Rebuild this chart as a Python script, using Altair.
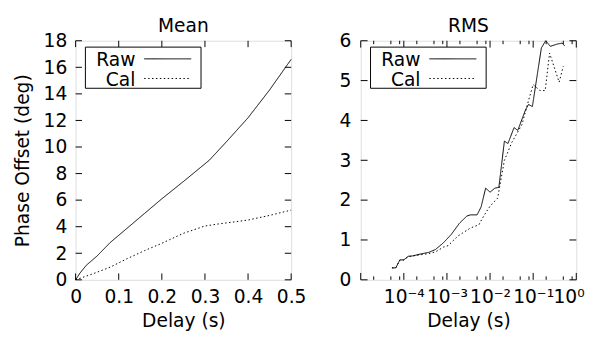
import altair as alt
import pandas as pd

# ---------------- data ----------------
series_names = ["Raw", "Cal"]

mean_delay_raw = [0.0, 0.01, 0.025, 0.05, 0.08, 0.12, 0.16, 0.2, 0.25, 0.31, 0.35, 0.4, 0.45, 0.5]
mean_raw = [0.0, 0.5, 1.1, 1.8, 2.8, 3.9, 5.0, 6.1, 7.4, 9.0, 10.4, 12.2, 14.3, 16.6]

mean_delay_cal = [0.0, 0.04, 0.08, 0.12, 0.16, 0.2, 0.25, 0.3, 0.33, 0.4, 0.45, 0.5]
mean_cal = [0.0, 0.45, 0.95, 1.6, 2.2, 2.75, 3.5, 4.05, 4.2, 4.5, 4.85, 5.25]

rms_delay_raw = [5.3e-5, 6.5e-5, 8.1e-5, 1.0e-4, 1.26e-4, 1.6e-4, 2.5e-4, 3.8e-4, 5.4e-4,
                 8.3e-4, 1.26e-3, 1.95e-3, 2.9e-3, 3.5e-3, 5.0e-3, 6.2e-3, 7.9e-3, 1.0e-2,
                 1.29e-2, 1.6e-2, 2.15e-2, 2.6e-2, 3.6e-2, 4.4e-2, 6.6e-2, 7.8e-2, 9.6e-2,
                 1.55e-1, 1.95e-1, 2.5e-1, 3.7e-1, 4.7e-1, 5.4e-1]
rms_raw = [0.30, 0.30, 0.50, 0.50, 0.59, 0.60, 0.65, 0.69, 0.76,
           0.93, 1.14, 1.42, 1.60, 1.63, 1.63, 1.83, 2.30, 2.20,
           2.30, 2.32, 3.48, 3.42, 3.82, 3.75, 4.26, 4.40, 4.35,
           5.82, 6.00, 5.86, 5.92, 5.94, 5.87]

rms_delay_cal = [5.3e-5, 6.5e-5, 8.1e-5, 1.0e-4, 1.26e-4, 1.6e-4, 2.5e-4, 3.8e-4, 5.4e-4,
                 8.3e-4, 1.07e-3, 1.8e-3, 3.5e-3, 5.5e-3, 7.1e-3, 1.0e-2, 1.5e-2, 2.15e-2,
                 3.2e-2, 5.5e-2, 7.8e-2, 1.0e-1, 1.43e-1, 1.9e-1, 2.4e-1, 4.0e-1, 5.0e-1]
rms_cal = [0.30, 0.30, 0.50, 0.50, 0.58, 0.60, 0.63, 0.66, 0.70,
           0.82, 0.86, 1.10, 1.30, 1.38, 1.60, 1.85, 2.05, 3.00,
           3.45, 3.90, 4.50, 4.90, 4.75, 4.75, 5.69, 4.96, 5.36]

mean_xticks = [0, 0.1, 0.2, 0.3, 0.4, 0.5]
mean_yticks = [0, 2, 4, 6, 8, 10, 12, 14, 16, 18]
rms_major_xticks = [1e-5, 1e-4, 1e-3, 1e-2, 1e-1, 1]
rms_minor_xticks = [2e-5, 5e-5, 8e-5, 2e-4, 5e-4, 8e-4, 2e-3, 5e-3, 8e-3,
                    2e-2, 5e-2, 8e-2, 2e-1, 5e-1, 8e-1]
rms_yticks = [0, 1, 2, 3, 4, 5, 6]
rms_label_values = [1e-4, 1e-3, 1e-2, 1e-1, 1]
rms_label_texts = ["10⁻⁴", "10⁻³", "10⁻²", "10⁻¹", "10⁰"]

# ---------------- styling ----------------
FONT = "DejaVu Sans"
W, H = 220, 244
FS = 19
DOT = [1.5, 2.5]


def df_series(xs, ys, name):
    return pd.DataFrame({"x": xs, "y": ys, "series": name})


def panel(raw_df, cal_df, xscale, yscale, xaxis, yaxis, xticks, yticks,
          minor_xticks, title, major_len, minor_len):
    layers = []
    for df, dash in [(raw_df, [1, 0]), (cal_df, DOT)]:
        layers.append(
            alt.Chart(df).mark_line(color="black", strokeWidth=1, strokeDash=dash).encode(
                x=alt.X("x:Q", scale=xscale, axis=xaxis),
                y=alt.Y("y:Q", scale=yscale, axis=yaxis),
            )
        )
    # inward ticks, bottom and top
    xt = pd.DataFrame({"x": xticks})
    for y0, y1 in [(H, H - major_len), (0, major_len)]:
        layers.append(
            alt.Chart(xt).mark_rule(color="black", strokeWidth=1).encode(
                x=alt.X("x:Q", scale=xscale, axis=xaxis),
                y=alt.value(y0), y2=alt.value(y1),
            )
        )
    if minor_xticks:
        mt = pd.DataFrame({"x": minor_xticks})
        for y0, y1 in [(H, H - minor_len), (0, minor_len)]:
            layers.append(
                alt.Chart(mt).mark_rule(color="black", strokeWidth=1).encode(
                    x=alt.X("x:Q", scale=xscale, axis=xaxis),
                    y=alt.value(y0), y2=alt.value(y1),
                )
            )
    yt = pd.DataFrame({"y": yticks})
    for x0, x1 in [(0, major_len), (W, W - major_len)]:
        layers.append(
            alt.Chart(yt).mark_rule(color="black", strokeWidth=1).encode(
                y=alt.Y("y:Q", scale=yscale, axis=yaxis),
                x=alt.value(x0), x2=alt.value(x1),
            )
        )
    # legend box
    box = pd.DataFrame({"series": [series_names[0]]})
    layers.append(
        alt.Chart(box).mark_rect(fill="white", stroke="black", strokeWidth=1).encode(
            x=alt.value(10), x2=alt.value(128), y=alt.value(6.5), y2=alt.value(48.5)
        )
    )
    for i, name in enumerate(series_names):
        d = pd.DataFrame({"series": [name]})
        yy = 20 + 20 * i
        layers.append(
            alt.Chart(d).mark_text(align="right", baseline="middle", fontSize=FS,
                                   font=FONT, color="black").encode(
                text="series:N", x=alt.value(61), y=alt.value(yy)
            )
        )
        layers.append(
            alt.Chart(d).mark_rule(color="black", strokeWidth=1,
                                   strokeDash=[1, 0] if i == 0 else DOT).encode(
                x=alt.value(70), x2=alt.value(118), y=alt.value(yy - 1.5)
            )
        )
    return alt.layer(*layers).properties(
        width=W, height=H,
        title=alt.TitleParams(title, anchor="middle", fontSize=FS, font=FONT,
                              fontWeight="normal", offset=-4, color="black",
                              frame="group"),
    )


axis_common = dict(grid=False, ticks=False, domain=False, labelFont=FONT, titleFont=FONT,
                   labelFontSize=FS, titleFontSize=FS, titleFontWeight="normal",
                   labelColor="black", titleColor="black",
                   labelOverlap=False)

left_x_scale = alt.Scale(domain=[0, 0.5], nice=False, zero=False)
left_y_scale = alt.Scale(domain=[0, 18], nice=False)
left_x_axis = alt.Axis(values=mean_xticks, format="~g", title="Delay (s)",
                       labelPadding=8, titlePadding=6, labelFlush=False, **axis_common)
left_y_axis = alt.Axis(values=mean_yticks, title="Phase Offset (deg)",
                       labelPadding=9, titlePadding=11, labelFlush=False, **axis_common)

label_expr = ""
for v, t in zip(rms_label_values[:-1], rms_label_texts[:-1]):
    label_expr += f"datum.value < {v * 5} ? '{t}' : "
label_expr += f"'{rms_label_texts[-1]}'"

right_x_scale = alt.Scale(type="log", domain=[1e-5, 1], nice=False)
right_y_scale = alt.Scale(domain=[0, 6], nice=False)
right_x_axis = alt.Axis(values=rms_label_values, labelExpr=label_expr, title="Delay (s)",
                        labelPadding=8, titlePadding=6, labelFlush=True,
                        labelFlushOffset=8, **axis_common)
right_y_axis = alt.Axis(values=rms_yticks, title=None, labelPadding=10,
                        labelFlush=False, **axis_common)

left = panel(df_series(mean_delay_raw, mean_raw, "Raw"),
             df_series(mean_delay_cal, mean_cal, "Cal"),
             left_x_scale, left_y_scale, left_x_axis, left_y_axis,
             mean_xticks, mean_yticks, None, "Mean", 6.5, 3.5)

right = panel(df_series(rms_delay_raw, rms_raw, "Raw"),
              df_series(rms_delay_cal, rms_cal, "Cal"),
              right_x_scale, right_y_scale, right_x_axis, right_y_axis,
              rms_major_xticks, rms_yticks, rms_minor_xticks, "RMS", 7, 3.5)

chart = alt.hconcat(left, right, spacing=71, bounds="flush").configure_view(
    stroke="black", strokeWidth=1
).configure(font=FONT, background="white")

chart.save("out.html", embed_options={"renderer": "svg", "actions": False})
